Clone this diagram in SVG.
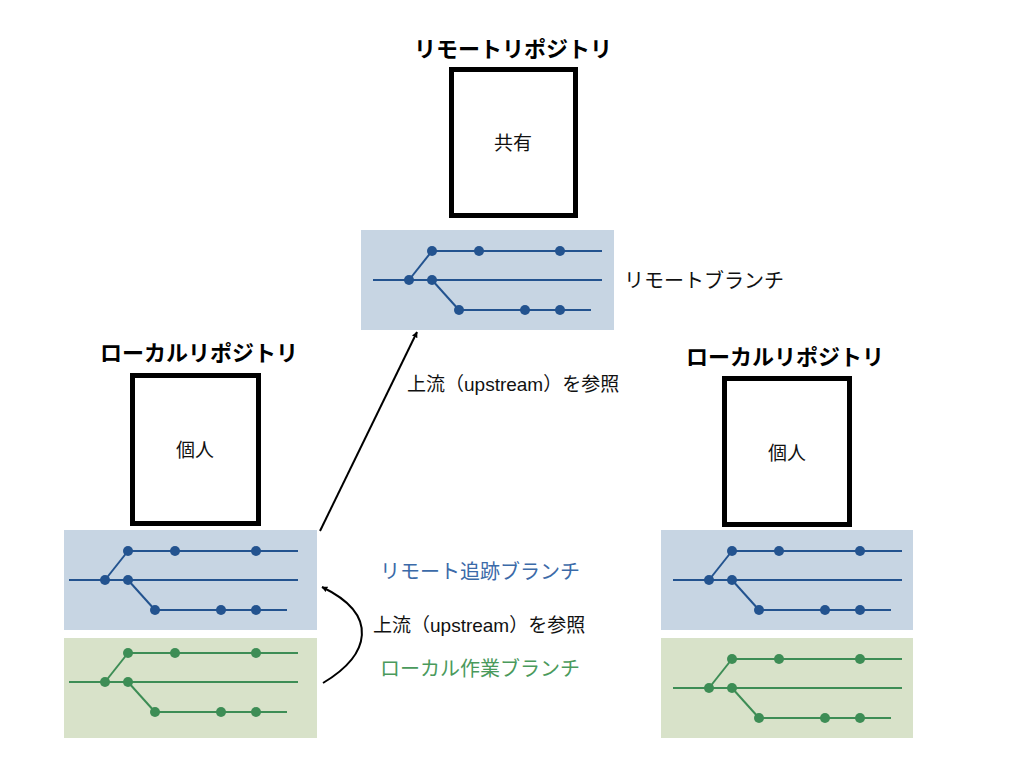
<svg xmlns="http://www.w3.org/2000/svg" xmlns:xlink="http://www.w3.org/1999/xlink" width="1024" height="768" viewBox="0 0 1024 768">
<style>
text{font-family:"Liberation Sans","Noto Sans CJK JP",sans-serif;}
.title{font-size:22px;font-weight:bold;fill:#000;text-anchor:middle;}
.inner{font-size:19px;fill:#111;text-anchor:middle;}
.lbl{font-size:20px;fill:#111;}
.up{font-size:19px;fill:#111;}
.lblb{font-size:20px;fill:#3b6aa8;}
.lblg{font-size:20px;fill:#4a9a5c;}
.box{fill:#fff;stroke:#000;stroke-width:5;}
.pb{fill:#c7d5e3;}
.pg{fill:#d8e2c9;}
.gb{stroke:#23538f;fill:#23538f;}
.gg{stroke:#3d8d55;fill:#3d8d55;}
.conn{fill:none;stroke:#000;stroke-width:2;}
</style>
<defs>
<marker id="ah" viewBox="0 0 10 10" refX="9" refY="5" markerWidth="6" markerHeight="6" orient="auto" markerUnits="userSpaceOnUse">
<path d="M0,0 L10,5 L0,10 z" fill="#000"/>
</marker>
<g id="graph">
<g fill="none" stroke-width="2">
<line x1="0" y1="0" x2="170" y2="0"/>
<line x1="-59" y1="29" x2="170" y2="29"/>
<line x1="27" y1="59" x2="159" y2="59"/>
<line x1="-23" y1="29" x2="0" y2="0"/>
<line x1="0" y1="29" x2="27" y2="59"/>
</g>
<g stroke="none">
<circle cx="0" cy="0" r="5"/>
<circle cx="47" cy="0" r="5"/>
<circle cx="128" cy="0" r="5"/>
<circle cx="-23" cy="29" r="5"/>
<circle cx="0" cy="29" r="5"/>
<circle cx="27" cy="59" r="5"/>
<circle cx="93" cy="59" r="5"/>
<circle cx="128" cy="59" r="5"/>
</g>
</g>
</defs>

<g id="remote-repo">
<text class="title" x="513" y="57">リモートリポジトリ</text>
<rect class="box" x="451.5" y="69.5" width="124" height="146"/>
<text class="inner" x="513" y="150">共有</text>
</g>

<g id="remote-branch">
<rect class="pb" x="361" y="230" width="253" height="100"/>
<use xlink:href="#graph" href="#graph" class="gb" transform="translate(432,251)"/>
<text class="lbl" x="624" y="288">リモートブランチ</text>
</g>

<g id="local-repo-left">
<text class="title" x="199" y="361">ローカルリポジトリ</text>
<rect class="box" x="132.5" y="375.5" width="126" height="148"/>
<text class="inner" x="195" y="457">個人</text>
</g>

<g id="left-tracking-branch">
<rect class="pb" x="64" y="530" width="253" height="100"/>
<use xlink:href="#graph" href="#graph" class="gb" transform="translate(128,551)"/>
</g>

<g id="left-working-branch">
<rect class="pg" x="64" y="638" width="253" height="100"/>
<use xlink:href="#graph" href="#graph" class="gg" transform="translate(128,653)"/>
</g>

<g id="local-repo-right">
<text class="title" x="785" y="365">ローカルリポジトリ</text>
<rect class="box" x="724.5" y="378.5" width="125" height="146"/>
<text class="inner" x="787" y="460">個人</text>
</g>

<g id="right-tracking-branch">
<rect class="pb" x="661" y="530" width="252" height="100"/>
<use xlink:href="#graph" href="#graph" class="gb" transform="translate(732,551)"/>
</g>

<g id="right-working-branch">
<rect class="pg" x="661" y="638" width="252" height="100"/>
<use xlink:href="#graph" href="#graph" class="gg" transform="translate(732,659)"/>
</g>

<g id="connectors">
<line class="conn" x1="320" y1="531" x2="417" y2="332" marker-end="url(#ah)"/>
<path class="conn" d="M323,683 C370,655 380,615 322,587" marker-end="url(#ah)"/>
</g>

<g id="labels">
<text class="up" x="407" y="391">上流（upstream）を参照</text>
<text class="lblb" x="380" y="579">リモート追跡ブランチ</text>
<text class="up" x="373" y="632">上流（upstream）を参照</text>
<text class="lblg" x="380" y="676">ローカル作業ブランチ</text>
</g>
</svg>
